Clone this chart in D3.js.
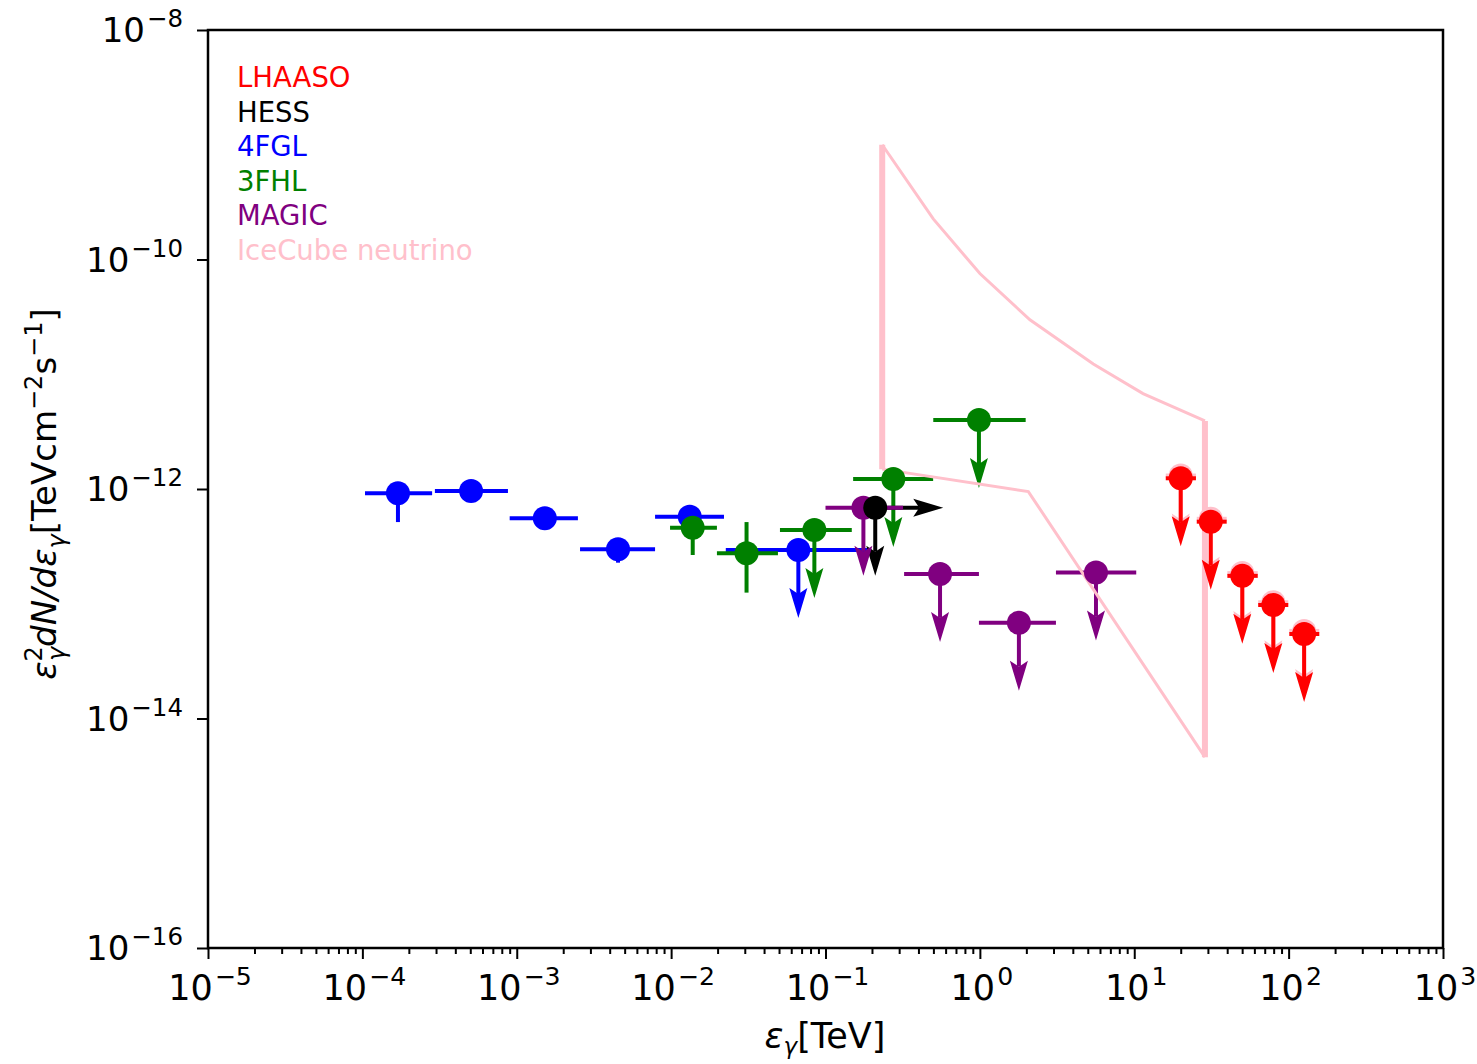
<!DOCTYPE html>
<html>
<head>
<meta charset="utf-8">
<script src="https://cdn.jsdelivr.net/npm/d3@7"></script>
<style>
  body { margin: 0; background: #fff; }
  text { font-family: "DejaVu Sans", sans-serif; }
</style>
</head>
<body>
<div id="chart"></div>
<script>
// [E, Elow, Ehigh, flux, fluxLow, fluxHigh]  (TeV, TeV cm^-2 s^-1)
const fglPoints = [
  [1.70e-4, 1.04e-4, 2.83e-4, 9.17e-13, 5.15e-13, null],
  [5.06e-4, 2.95e-4, 8.77e-4, 9.61e-13, null, null],
  [1.52e-3, 9.0e-4, 2.49e-3, 5.55e-13, null, null],
  [4.53e-3, 2.57e-3, 7.87e-3, 2.98e-13, 2.28e-13, null],
  [1.32e-2, 7.87e-3, 2.2e-2, 5.74e-13, null, 7.26e-13]
];
// upper limits: [E, Elow, Ehigh, flux]
const fglLimits = [
  [6.67e-2, 2.26e-2, 0.194, 2.94e-13]
];
const fhlPoints = [
  [1.38e-2, 9.84e-3, 1.98e-2, 4.6e-13, 2.66e-13, null],
  [3.08e-2, 1.98e-2, 4.92e-2, 2.75e-13, 1.25e-13, 5.15e-13]
];
const fhlLimits = [
  [8.47e-2, 5.07e-2, 0.148, 4.39e-13],
  [0.275, 0.151, 0.498, 1.22e-12],
  [0.986, 0.499, 1.98, 3.99e-12]
];
const magicLimits = [
  [0.176, 0.1, 0.318, 6.87e-13],
  [0.552, 0.323, 0.986, 1.82e-13],
  [1.79, 0.986, 3.11, 6.84e-14],
  [5.65, 3.11, 10.3, 1.87e-13]
];
const hessE = 0.210;
const hessF = 6.87e-13;

const lhaasoE = [20.0, 31.3, 50.1, 79.6, 126];
const lhaasoElo = [16.0, 25.4, 40.1, 63.5, 101];
const lhaasoEhi = [25.1, 39.7, 63.1, 99.5, 158];
const lhaasoF = [1.24e-12, 5.19e-13, 1.75e-13, 9.75e-14, 5.45e-14];
const lhaasoShadowF = [1.31e-12, 5.5e-13, 1.85e-13, 1.03e-13, 5.8e-14];

// IceCube neutrino band outline
const nuTopE = [0.233, 0.499, 1.0, 2.11, 5.43, 11.4, 28.7];
const nuTopF = [1.0e-9, 2.26e-10, 7.54e-11, 2.98e-11, 1.23e-11, 6.78e-12, 3.92e-12];
const nuBotE = [0.233, 2.06, 28.7];
const nuBotF = [1.49e-12, 9.5e-13, 4.6e-15];

const legendNames = ["LHAASO", "HESS", "4FGL", "3FHL", "MAGIC", "IceCube neutrino"];
const legendColors = ["red", "black", "blue", "green", "purple", "pink"];

const xMajor = [1e-5, 1e-4, 1e-3, 1e-2, 1e-1, 1e0, 1e1, 1e2, 1e3];
const yMajor = [1e-8, 1e-10, 1e-12, 1e-14, 1e-16];

const W = 1477, H = 1064;
const box = { left: 208, right: 1443, top: 30, bottom: 948 };

const svg = d3.select("#chart").append("svg")
  .attr("width", W).attr("height", H);

const x = d3.scaleLog().domain([1e-5, 1e3]).range([box.left, box.right]);
const y = d3.scaleLog().domain([1e-16, 1e-8]).range([box.bottom, box.top]);

const lines = svg.append("g");
const marks = svg.append("g");

const LW = 4, R = 12, ALEN = 68;

function arrow(g, x0, y0, dx, dy, color) {
  const tx = x0 + dx * ALEN, ty = y0 + dy * ALEN;
  const px = -dy, py = dx;
  const headLen = 30, notch = 24, hw = 9;
  g.append("line")
    .attr("x1", x0).attr("y1", y0)
    .attr("x2", tx - dx * notch).attr("y2", ty - dy * notch)
    .attr("stroke", color).attr("stroke-width", LW);
  const bx = tx - dx * headLen, by = ty - dy * headLen;
  const pts = [
    [tx, ty],
    [bx + px * hw, by + py * hw],
    [tx - dx * notch, ty - dy * notch],
    [bx - px * hw, by - py * hw]
  ];
  g.append("polygon").attr("points", pts.map(p => p.join(",")).join(" "))
    .attr("fill", color);
}

function hbar(g, e0, e1, f, color) {
  g.append("line")
    .attr("x1", x(e0)).attr("x2", x(e1))
    .attr("y1", y(f)).attr("y2", y(f))
    .attr("stroke", color).attr("stroke-width", LW);
}
function vbar(g, e, f0, f1, color) {
  g.append("line")
    .attr("x1", x(e)).attr("x2", x(e))
    .attr("y1", y(f0)).attr("y2", y(f1))
    .attr("stroke", color).attr("stroke-width", LW);
}
function dot(g, e, f, color) {
  g.append("circle").attr("cx", x(e)).attr("cy", y(f)).attr("r", R).attr("fill", color);
}

function drawPoints(rows, color) {
  rows.forEach(d => {
    hbar(lines, d[1], d[2], d[3], color);
    if (d[4] != null) vbar(lines, d[0], d[4], d[3], color);
    if (d[5] != null) vbar(lines, d[0], d[3], d[5], color);
  });
}
function drawLimits(rows, color) {
  rows.forEach(d => {
    hbar(lines, d[1], d[2], d[3], color);
    arrow(lines, x(d[0]), y(d[3]), 0, 1, color);
  });
}

// error bars and arrows
drawPoints(fglPoints, "blue");
drawLimits(fglLimits, "blue");
drawPoints(fhlPoints, "green");
drawLimits(fhlLimits, "green");
arrow(lines, x(hessE), y(hessF), 1, 0, "black");
arrow(lines, x(hessE), y(hessF), 0, 1, "black");
drawLimits(magicLimits, "purple");

// neutrino band
const nuLine = d3.line().x(d => x(d[0])).y(d => y(d[1]));
lines.append("path").datum(d3.zip(nuTopE, nuTopF)).attr("d", nuLine)
  .attr("fill", "none").attr("stroke", "pink").attr("stroke-width", 3);
lines.append("path").datum(d3.zip(nuBotE, nuBotF)).attr("d", nuLine)
  .attr("fill", "none").attr("stroke", "pink").attr("stroke-width", 3);
[[nuTopE[0], nuTopF[0], nuBotF[0]],
 [nuTopE[nuTopE.length - 1], nuTopF[nuTopF.length - 1], nuBotF[nuBotF.length - 1]]]
  .forEach(d => {
    lines.append("line")
      .attr("x1", x(d[0])).attr("x2", x(d[0]))
      .attr("y1", y(d[1])).attr("y2", y(d[2]))
      .attr("stroke", "pink").attr("stroke-width", 6);
  });

// LHAASO with pink shadow
lhaasoE.forEach((e, i) => {
  hbar(lines, lhaasoElo[i], lhaasoEhi[i], lhaasoShadowF[i], "pink");
  arrow(lines, x(e), y(lhaasoShadowF[i]), 0, 1, "pink");
  dot(lines, e, lhaasoShadowF[i], "pink");
});
lhaasoE.forEach((e, i) => {
  hbar(lines, lhaasoElo[i], lhaasoEhi[i], lhaasoF[i], "red");
  arrow(lines, x(e), y(lhaasoF[i]), 0, 1, "red");
});

// markers
fglPoints.concat(fglLimits).forEach(d => dot(marks, d[0], d[3], "blue"));
fhlPoints.concat(fhlLimits).forEach(d => dot(marks, d[0], d[3], "green"));
magicLimits.forEach(d => dot(marks, d[0], d[3], "purple"));
dot(marks, hessE, hessF, "black");
lhaasoE.forEach((e, i) => dot(marks, e, lhaasoF[i], "red"));

// frame
svg.append("rect")
  .attr("x", box.left).attr("y", box.top)
  .attr("width", box.right - box.left).attr("height", box.bottom - box.top)
  .attr("fill", "none").attr("stroke", "black").attr("stroke-width", 2.5);

function powLabel(sel, exp) {
  sel.append("tspan").text("10");
  sel.append("tspan").attr("dy", -15).attr("dx", 2).attr("font-size", "0.72em")
    .text(exp < 0 ? "\u2212" + (-exp) : String(exp));
}

// x axis
const xMinor = [];
for (let p = -5; p < 3; p++) for (let k = 2; k < 10; k++) xMinor.push(k * Math.pow(10, p));

const xAxis = svg.append("g").attr("transform", "translate(0," + box.bottom + ")");
xAxis.call(d3.axisBottom(x).tickValues(xMajor).tickSize(11).tickFormat(""));
xAxis.append("g").call(d3.axisBottom(x).tickValues(xMinor).tickSize(6).tickFormat(""));
xAxis.selectAll(".domain").remove();
xAxis.selectAll("line").attr("stroke-width", 2);

xMajor.forEach(v => {
  const t = svg.append("text").attr("x", x(v) + 2).attr("y", 1000)
    .attr("text-anchor", "middle").attr("font-size", 35);
  powLabel(t, Math.round(Math.log10(v)));
});

// y axis
const yAxis = svg.append("g").attr("transform", "translate(" + box.left + ",0)");
yAxis.call(d3.axisLeft(y).tickValues(yMajor).tickSize(11).tickFormat(""));
yAxis.selectAll(".domain").remove();
yAxis.selectAll("line").attr("stroke-width", 2);

yMajor.forEach(v => {
  const t = svg.append("text").attr("x", 183).attr("y", y(v) + 12)
    .attr("text-anchor", "end").attr("font-size", 34);
  powLabel(t, Math.round(Math.log10(v)));
});

// axis titles
function richText(t, parts) {
  let shift = 0;
  parts.forEach(p => {
    const s = t.append("tspan").text(p.t);
    const sh = p.shift || 0;
    if (sh !== shift) s.attr("dy", sh - shift);
    shift = sh;
    if (p.dx) s.attr("dx", p.dx);
    if (p.size) s.attr("font-size", p.size);
    if (p.it) s.attr("font-style", "italic");
  });
}

const xt = svg.append("text").attr("x", 825).attr("y", 1048)
  .attr("text-anchor", "middle").attr("font-size", 35);
richText(xt, [
  { t: "\u03b5", it: true },
  { t: "\u03b3", it: true, size: 23, shift: 6 },
  { t: "[TeV]" }
]);

const yt = svg.append("text")
  .attr("transform", "translate(56,494) rotate(-90)")
  .attr("text-anchor", "middle").attr("font-size", 34);
richText(yt, [
  { t: "\u03b5", it: true },
  { t: "2", size: 24, shift: -14 },
  { t: "\u03b3", it: true, size: 24, shift: 9, dx: -15 },
  { t: "dN/d\u03b5", it: true },
  { t: "\u03b3", it: true, size: 24, shift: 9 },
  { t: "[TeVcm" },
  { t: "\u22122", size: 24, shift: -14 },
  { t: "s" },
  { t: "\u22121", size: 24, shift: -14 },
  { t: "]" }
]);

// legend (text only)
svg.append("g").selectAll("text")
  .data(legendNames)
  .enter()
  .append("text")
  .attr("x", 237)
  .attr("y", (d, i) => 87 + i * 34.5)
  .attr("font-size", 27.5)
  .attr("fill", (d, i) => legendColors[i])
  .text(d => d);
</script>
</body>
</html>
